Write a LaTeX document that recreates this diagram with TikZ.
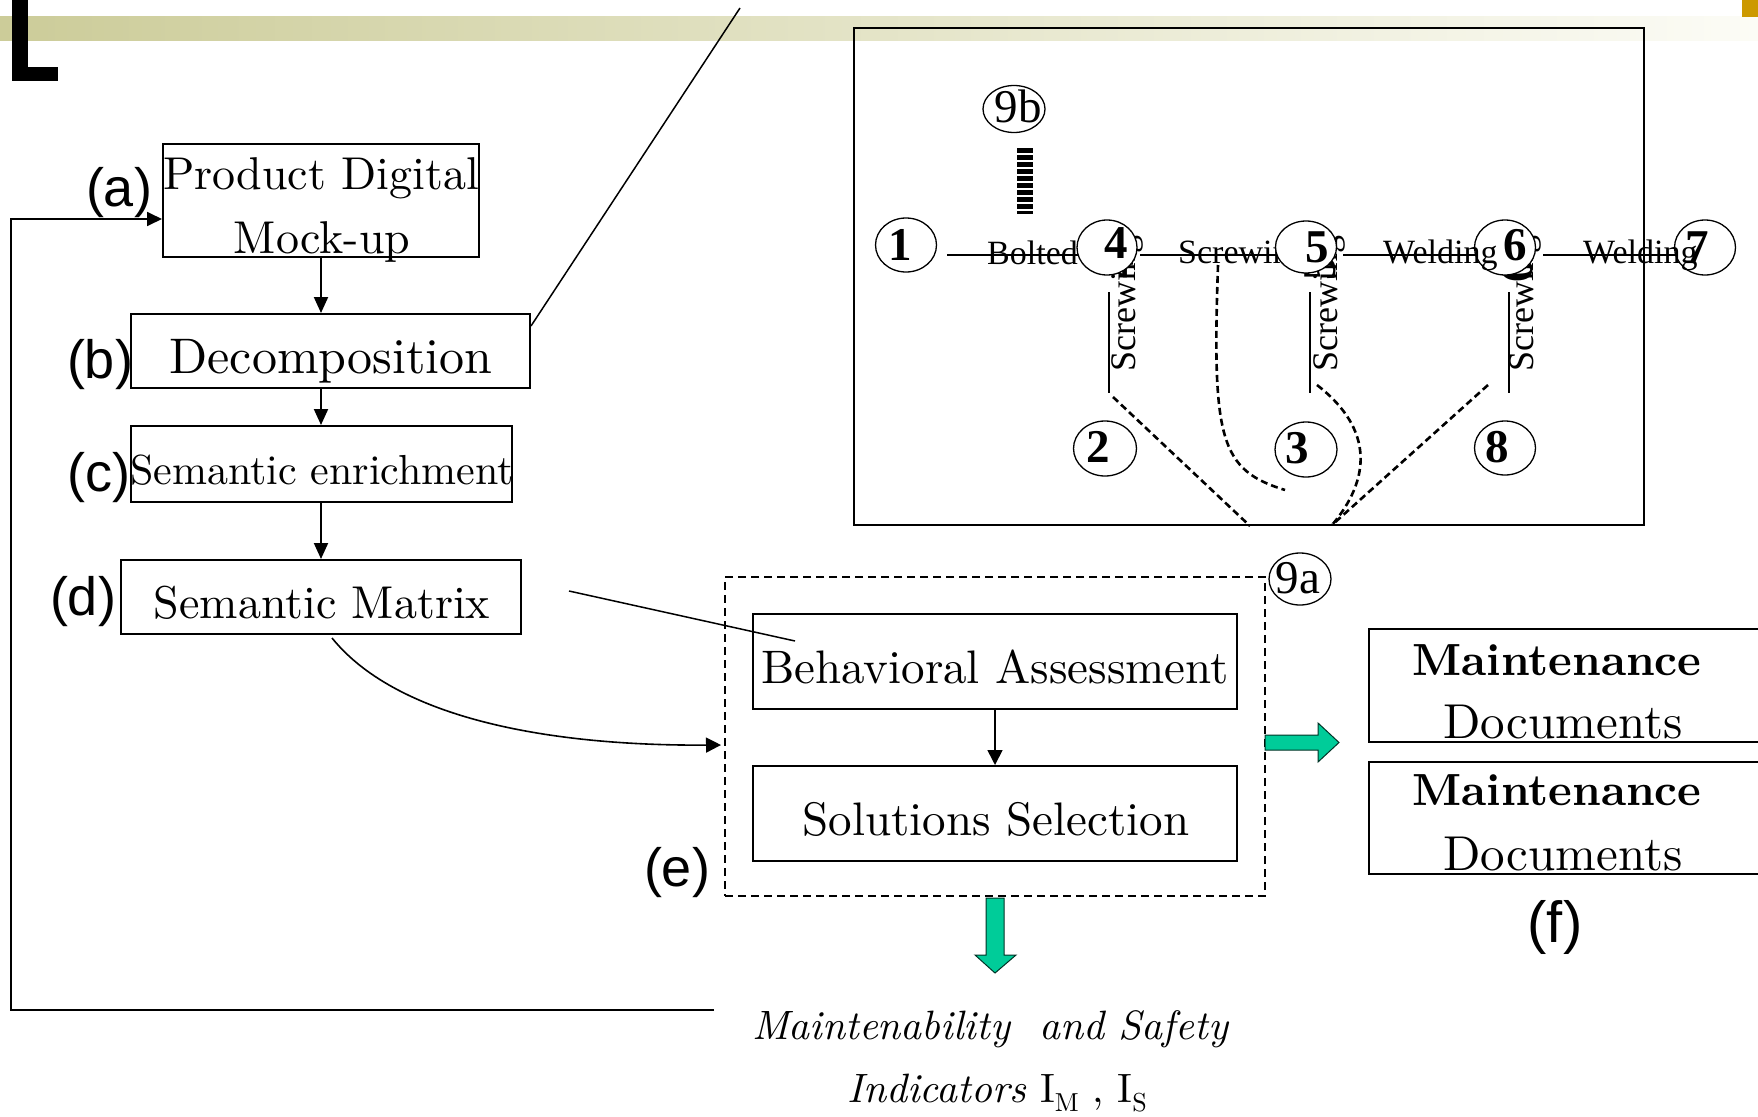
\documentclass[tikz,border=0pt]{standalone}
\usepackage{fontspec}
\setmainfont{lmroman10-regular.otf}[BoldFont=lmroman10-bold.otf, ItalicFont=lmroman10-italic.otf]
\newfontfamily\timesf{Liberation Serif}
\newfontfamily\arialf{Liberation Sans}
\usetikzlibrary{arrows.meta,shapes.geometric,calc}
\newcommand\setfs[1]{\fontsize{#1}{#1}\selectfont}
\definecolor{oliveL}{RGB}{204,204,153}
\definecolor{oliveR}{RGB}{252,252,246}
\definecolor{tealg}{RGB}{0,204,153}
\definecolor{goldsq}{RGB}{204,153,0}
\pgfdeclarelayer{under}
\pgfsetlayers{under,main}
\tikzset{
  pbox/.style={draw, line width=2pt, inner sep=0pt},
  txt/.style={inner sep=0pt, anchor=base},
  lab/.style={txt, font=\arialf\setfs{54}},
  flow/.style={line width=2pt, -{Triangle[length=16pt,width=14pt]}},
  thinflow/.style={line width=1.6pt, -{Triangle[length=15pt,width=15pt]}},
  edge/.style={line width=1.3pt},
  dashlink/.style={line width=2.6pt, dash pattern=on 7pt off 4pt},
  nodeell/.style={draw, ellipse, fill=white, line width=1.3pt, inner sep=0pt,
                  minimum width=61pt, minimum height=54pt},
  num/.style={txt, font=\timesf\bfseries\setfs{47}},
  elab/.style={txt, anchor=base west, font=\timesf\setfs{34}},
  vlab/.style={txt, font=\timesf\setfs{36}, rotate=90, anchor=base west},
  garrow/.style={fill=tealg, draw=black!75!tealg, line width=1pt},
}
\begin{document}
\begin{tikzpicture}[x=1pt,y=-1pt]
\useasboundingbox (0,0) rectangle (1758,1116);

% title bar of the slide
\begin{pgfonlayer}{under}
\shade[left color=oliveL, right color=oliveR] (0,17) rectangle (1758,41);
\fill (12,0) rectangle (28,81);
\fill (12,67) rectangle (58,81);
\fill[goldsq] (1742,0) rectangle (1758,17);
\end{pgfonlayer}

% ---------- left process chain ----------
\node[pbox, minimum width=316pt, minimum height=113pt] (a) at (321,200.5) {};
\node[pbox, minimum width=399pt, minimum height=74pt] (b) at (330.5,351) {};
\node[pbox, minimum width=381pt, minimum height=76pt] (c) at (321.5,464) {};
\node[pbox, minimum width=400pt, minimum height=74pt] (d) at (321,597) {};

\node[txt, font=\setfs{46}] (at1) at (321,189) {Product Digital};
\node[txt, font=\setfs{46}] (at2) at (322,253) {Mock-up};
\node[txt, font=\setfs{50}] (bt) at (331,373.5) {Decomposition};
\node[txt, font=\setfs{42}] (ct) at (322,484) {Semantic enrichment};
\node[txt, font=\setfs{46}] (dt) at (322,618) {Semantic Matrix};

\node[lab] (la) at (119,206) {(a)};
\node[lab] (lb) at (100,378) {(b)};
\node[lab] (lc) at (99,491) {(c)};
\node[lab] (ld) at (83,615) {(d)};

\draw[flow] (a.south) -- (a.south |- b.north);
\draw[flow] (a.south |- b.south) -- (a.south |- c.north);
\draw[flow] (a.south |- c.south) -- (a.south |- d.north);

% zoom line from the decomposition box to the graph
\coordinate (zoomtop) at (740,8);
\draw[line width=1.5pt] ($(b.north east)+(0,13)$) -- (zoomtop);

% ---------- assessment block ----------
\node[draw, line width=2pt, dash pattern=on 8pt off 5pt, inner sep=0pt,
      minimum width=540pt, minimum height=319pt] (ebox) at (995,736.5) {};
\node[pbox, minimum width=484pt, minimum height=95pt] (beh) at (995,661.5) {};
\node[pbox, minimum width=484pt, minimum height=95pt] (sol) at (995,813.5) {};
\node[txt, font=\setfs{47}] (beht) at (995,683) {Behavioral Assessment};
\node[txt, font=\setfs{47}] (solt) at (996,835) {Solutions Selection};
\draw[thinflow] (beh.south) -- (sol.north);
\node[lab] (le) at (677,886) {(e)};

\node[nodeell, minimum width=62pt, minimum height=52pt] (n9a) at (1300,579) {};
\node[txt, font=\timesf\setfs{47}] (t9a) at (1298,593) {9a};

% links from the semantic matrix
\coordinate (sm1) at (569,591);
\coordinate (sm2) at (795,641);
\draw[line width=1.5pt] (sm1) -- (sm2);
\coordinate (cs) at (332,638);
\coordinate (ce) at (721,745);
\draw[thinflow] (cs) .. controls (400,722) and (560,746) .. (ce);

% feedback loop
\coordinate (fb) at (714,1010);
\coordinate (fbc) at (11,219);
\draw[line width=1.8pt, -{Triangle[length=15pt,width=14pt]}] (fb) -| (fbc) -- (fbc -| a.west);

% green block arrows
\draw[garrow] (1265,735) -- (1318,735) -- (1318,723) -- (1339,742.5) -- (1318,762)
  -- (1318,750) -- (1265,750) -- cycle;
\draw[garrow] (986,898) -- (1004,898) -- (1004,955) -- (1016,955) -- (995,973)
  -- (975,955) -- (986,955) -- cycle;

% ---------- maintenance documents ----------
\node[pbox, minimum width=411pt, minimum height=113pt] (md1) at (1574.5,685.5) {};
\node[pbox, minimum width=411pt, minimum height=112pt] (md2) at (1574.5,818) {};
\node[txt, font=\bfseries\setfs{45}] (md1a) at (1557,675) {Maintenance};
\node[txt, font=\setfs{49}] (md1b) at (1563,738) {Documents};
\node[txt, font=\bfseries\setfs{45}] (md2a) at (1557,805) {Maintenance};
\node[txt, font=\setfs{49}] (md2b) at (1563,870) {Documents};
\node[txt, font=\arialf\setfs{58}] (lf) at (1555,942) {(f)};

% indicators
\node[txt, font=\setfs{41}\itshape] (mi1) at (990,1039) {Maintenability\ \ and Safety};
\node[txt, font=\setfs{41}] (mi2) at (997,1102)
  {\textit{Indicators} I\raisebox{-9pt}{\setfs{26}M} , I\raisebox{-9pt}{\setfs{26}S}};

% ---------- assembly graph ----------
\node[nodeell] (n1) at (906,245) {};
\node[nodeell, minimum width=62pt, minimum height=47pt] (n9b) at (1014,109) {};
\node[nodeell, minimum width=60pt, minimum height=55pt] (n4) at (1107,247.5) {};
\node[nodeell, minimum height=52pt] (n5) at (1306,247) {};
\node[nodeell, minimum height=55pt] (n6) at (1505,247.5) {};
\node[nodeell, minimum height=55pt] (n7) at (1705,247.5) {};
\node[nodeell, minimum width=63pt, minimum height=55pt] (n2) at (1105,448.5) {};
\node[nodeell, minimum width=62pt, minimum height=55pt] (n3) at (1306,449.5) {};
\node[nodeell, minimum height=54pt] (n8) at (1505,448) {};

\coordinate (e14) at (947,255);
\coordinate (e45) at (1140,255);
\coordinate (e56) at (1343,255);
\coordinate (e67) at (1543,255);
\coordinate (v4a) at (1109,292); \coordinate (v4b) at (1109,393);
\coordinate (v5a) at (1310,292); \coordinate (v5b) at (1310,393);
\coordinate (v6a) at (1509,292); \coordinate (v6b) at (1509,393);

% links and hidden label parts lie underneath the part ellipses
\begin{pgfonlayer}{under}
\draw[edge] (e14) -- (e14 -| n4);
\draw[edge] (e45) -- (e45 -| n5);
\draw[edge] (e56) -- (e56 -| n6);
\draw[edge] (e67) -- (e67 -| n7);
\draw[edge] (v4a) -- (v4b);
\draw[edge] (v5a) -- (v5b);
\draw[edge] (v6a) -- (v6b);
\node[elab] (s45) at (1178,263) {Screwing};
\node[vlab] (s42) at (1135,372) {Screwing};
\node[vlab] (s53) at (1337,372) {Screwing};
\node[vlab] (s68) at (1533,372) {Screwing};
\node[num, rotate=90, anchor=center] (r4) at (1118,267) {4};
\node[num, rotate=90, anchor=center] (r5) at (1320,269) {5};
\node[num, rotate=90, anchor=center] (r6) at (1517,271) {6};
\end{pgfonlayer}

% dashed links towards the assessment block
\coordinate (d1a) at (1113,397); \coordinate (d1b) at (1250,526);
\coordinate (d2a) at (1218,265); \coordinate (d2b) at (1285,490);
\coordinate (d3a) at (1317,385); \coordinate (d3b) at (1332,525);
\coordinate (d4a) at (1488,385); \coordinate (d4b) at (1332,525);
\draw[dashlink] (d1a) -- (d1b);
\draw[dashlink] (d2a) .. controls (1212,440) and (1220,470) .. (d2b);
\draw[dashlink] (d3a) .. controls (1375,430) and (1370,480) .. (d3b);
\draw[dashlink] (d4a) -- (d4b);

% part numbers
\node[num] (t1) at (900,260) {1};
\node[num] (t4) at (1116,258) {4};
\node[num] (t5) at (1317,262) {5};
\node[num] (t6) at (1515,260) {6};
\node[num] (t7) at (1697,262) {7};
\node[num] (t2) at (1098,462) {2};
\node[num] (t3) at (1297,463) {3};
\node[num] (t8) at (1497,462) {8};
\node[txt, font=\timesf\setfs{47}] (t9b) at (1018,122) {9b};

% visible link labels
\node[elab] (l14) at (987,264) {Bolted};
\node[elab] (l56) at (1383,263) {Welding};
\node[elab] (l67) at (1583,263) {Welding};

% stacked fastener marks below 9b
\coordinate (fa) at (1025,148); \coordinate (fz) at (1025,214);
\draw[line width=16pt, dash pattern=on 4.6pt off 2.4pt] (fa) -- (fz);

% graph frame
\node[draw, line width=2.2pt, inner sep=0pt, minimum width=790pt, minimum height=497pt]
  (frame) at (1249,276.5) {};
\end{tikzpicture}
\end{document}
